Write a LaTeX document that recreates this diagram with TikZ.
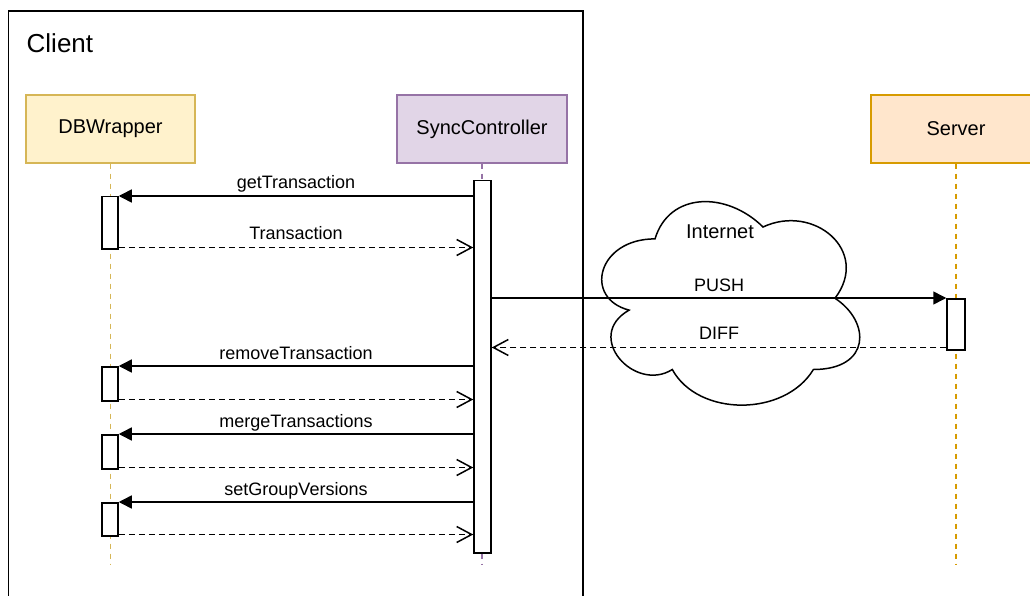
\documentclass[tikz,border=0pt]{standalone}
\usepackage{fontspec}
\setmainfont{Liberation Sans}
\usetikzlibrary{arrows.meta}
\definecolor{dbfill}{HTML}{FFF2CC}
\definecolor{dbline}{HTML}{D6B656}
\definecolor{scfill}{HTML}{E1D5E7}
\definecolor{scline}{HTML}{9673A6}
\definecolor{svfill}{HTML}{FFE6CC}
\definecolor{svline}{HTML}{D79B00}
\tikzset{
  headbox/.style={draw=#1, line width=1.4pt, minimum width=170pt, minimum height=68pt,
    inner sep=0pt, font=\fontsize{20}{24}\selectfont},
  lifeline/.style={draw=#1, line width=1.4pt, dash pattern=on 5pt off 5pt},
  actbox/.style={draw, fill=white, line width=1.5pt, minimum width=17pt, inner sep=0pt, anchor=north},
  msg/.style={line width=1.5pt, -{Triangle[length=13pt,width=13pt]}},
  ret/.style={line width=1.5pt, dash pattern=on 6pt off 4pt, -{Straight Barb[length=15pt,width=16pt,line width=1.5pt]}},
  lbl/.style={anchor=base, font=\fontsize{18}{22}\selectfont, inner sep=0pt},
  frameline/.style={line width=1.7pt},
  cloudline/.style={line width=1.5pt, fill=white}
}
\begin{document}
\begin{tikzpicture}[x=1pt,y=-1pt]
\useasboundingbox (0,0) rectangle (1030,596);
\clip (0,0) rectangle (1030,596);
\fill[white] (0,0) rectangle (1030,596);

% Client frame
\draw[frameline] (8.5,11) rectangle (583,640);
\node[anchor=base west, inner sep=0pt, font=\fontsize{26}{31}\selectfont] (client) at (26.5,53) {Client};

% Headers
\node[headbox=dbline, fill=dbfill, minimum width=169pt] (db) at (110.5,129) {DBWrapper};
\node[headbox=scline, fill=scfill] (sc) at (482,129) {SyncController};
\node[headbox=svline, fill=svfill] (sv) at (956,129) {Server};

% Lifelines
\coordinate (end) at (0,565);
\draw[lifeline=dbline] (db.south) -- (db.south |- end);
\draw[lifeline=scline] (sc.south) -- (sc.south |- end);
\draw[lifeline=svline] (sv.south) -- (sv.south |- end);

% Cloud
\begin{scope}[shift={(583,179.5)}]
\begin{scope}[x=288pt,y=-237.5pt]
\draw[cloudline] (0.25,0.25) .. controls (0.05,0.25) and (0,0.5) .. (0.16,0.55)
 .. controls (0,0.66) and (0.18,0.9) .. (0.31,0.8)
 .. controls (0.4,1) and (0.7,1) .. (0.8,0.8)
 .. controls (1,0.8) and (1,0.6) .. (0.875,0.5)
 .. controls (1,0.3) and (0.8,0.1) .. (0.625,0.2)
 .. controls (0.5,0.05) and (0.3,0.05) .. (0.25,0.25) -- cycle;
\end{scope}
\end{scope}
\node[anchor=base, inner sep=0pt, font=\fontsize{20}{24}\selectfont] (internet) at (720,238) {Internet};

% Activations
\node[actbox, minimum height=372pt] (asc) at (482.5,180) {};
\node[actbox, minimum width=16pt, minimum height=52pt] (d1) at (110,196) {};
\node[actbox, minimum width=16pt, minimum height=34pt] (d2) at (110,366) {};
\node[actbox, minimum width=16pt, minimum height=34pt] (d3) at (110,434) {};
\node[actbox, minimum width=16pt, minimum height=33pt] (d4) at (110,502) {};
\node[actbox, minimum width=18pt, minimum height=51pt] (asv) at (956,298) {};

% Messages
\draw[msg] (asc.west |- d1.north) -- (d1.north east) node[lbl, midway, yshift=7pt] {getTransaction};
\coordinate (r1) at ([yshift=2pt]d1.south east);
\draw[ret] (r1) -- (asc.west |- r1) node[lbl, midway, yshift=8pt] {Transaction};

\draw[msg] (asc.east |- asv.north) -- (asv.north west) node[lbl, midway, yshift=7pt] {PUSH};
\coordinate (r0) at ([yshift=3pt]asv.south west);
\draw[ret] (r0) -- (asc.east |- r0) node[lbl, midway, yshift=8pt] {DIFF};

\draw[msg] (asc.west |- d2.north) -- (d2.north east) node[lbl, midway, yshift=7pt] {removeTransaction};
\coordinate (r2) at ([yshift=2pt]d2.south east);
\draw[ret] (r2) -- (asc.west |- r2);

\draw[msg] (asc.west |- d3.north) -- (d3.north east) node[lbl, midway, yshift=7pt] {mergeTransactions};
\coordinate (r3) at ([yshift=2pt]d3.south east);
\draw[ret] (r3) -- (asc.west |- r3);

\draw[msg] (asc.west |- d4.north) -- (d4.north east) node[lbl, midway, yshift=7pt] {setGroupVersions};
\coordinate (r4) at ([yshift=2pt]d4.south east);
\draw[ret] (r4) -- (asc.west |- r4);
\end{tikzpicture}
\end{document}
